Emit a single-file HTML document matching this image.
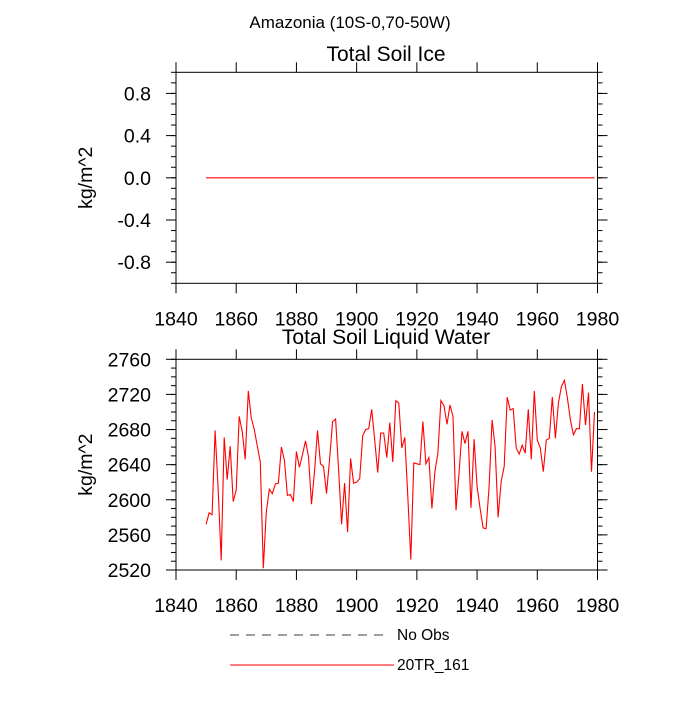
<!DOCTYPE html>
<html><head><meta charset="utf-8"><style>
body{margin:0;background:#fff;}
svg text{font-family:"Liberation Sans",sans-serif;fill:#000;}
</style></head><body>
<svg id="c" width="700" height="700" xmlns="http://www.w3.org/2000/svg"></svg>
<script>
const years = [];
for (let y = 1850; y <= 1979; y++) years.push(y);
const liquidWater = [2572,2585,2583,2679,2611,2531,2671,2623,2661,2598,2611,2695,2678,2646,2724,2693,2680,2661,2643,2522,2586,2612,2607,2618,2619,2660,2645,2605,2606,2598,2655,2637,2651,2667,2649,2595,2632,2679,2641,2638,2607,2645,2689,2692,2634,2572,2619,2563,2647,2619,2620,2624,2673,2680,2681,2703,2668,2631,2676,2676,2648,2688,2643,2713,2710,2659,2671,2604,2532,2642,2641,2640,2689,2641,2648,2590,2632,2653,2713,2707,2686,2708,2695,2588,2630,2678,2664,2678,2591,2669,2615,2590,2568,2567,2615,2691,2660,2580,2621,2638,2717,2702,2704,2659,2652,2662,2653,2703,2646,2724,2668,2659,2632,2668,2670,2717,2670,2710,2729,2736,2716,2691,2674,2681,2681,2732,2685,2722,2632,2700];
const soilIce = years.map(() => 0);
const xTicks = [1840,1860,1880,1900,1920,1940,1960,1980];
const iceTicks = [-0.8,-0.4,0.0,0.4,0.8];
const waterTicks = [2520,2560,2600,2640,2680,2720,2760];

const svg = document.getElementById('c');
const NS = 'http://www.w3.org/2000/svg';
function mk(tag, attrs, parent) {
  const e = document.createElementNS(NS, tag);
  for (const k in attrs) e.setAttribute(k, attrs[k]);
  (parent || svg).appendChild(e);
  return e;
}
const X0 = 176, X1 = 597.5;
const xs = v => X0 + (v - 1840) / 140 * (X1 - X0);

function panel(name, top, bottom, ymin, ymax, majors, minorStep, fmt, data, title, titleY) {
  const g = mk('g', {});
  
  
  const ys = v => bottom - (v - ymin) / (ymax - ymin) * (bottom - top);
  const f = mk('rect', {x: X0, y: top, width: X1 - X0, height: bottom - top, fill: 'none', stroke: '#000', 'stroke-width': 1}, g);
  
  
  for (let v = ymin; v <= ymax + 1e-9; v += minorStep) {
    const yy = ys(v);
    mk('line', {x1: X0 - 5, x2: X0, y1: yy, y2: yy, stroke: '#000'}, g);
    mk('line', {x1: X1, x2: X1 + 5, y1: yy, y2: yy, stroke: '#000'}, g);
  }
  majors.forEach(v => {
    const yy = ys(v);
    mk('line', {x1: X0 - 10, x2: X0, y1: yy, y2: yy, stroke: '#000'}, g);
    mk('line', {x1: X1, x2: X1 + 10, y1: yy, y2: yy, stroke: '#000'}, g);
    const t = mk('text', {x: X0 - 25, y: yy + 7, 'text-anchor': 'end', 'font-size': 19.5}, g);
    t.textContent = fmt(v);
    
    
  });
  xTicks.forEach(v => {
    const xx = xs(v);
    mk('line', {x1: xx, x2: xx, y1: top - 10, y2: top, stroke: '#000'}, g);
    mk('line', {x1: xx, x2: xx, y1: bottom, y2: bottom + 10, stroke: '#000'}, g);
    const t = mk('text', {x: xx, y: bottom + 42, 'text-anchor': 'middle', 'font-size': 19.5}, g);
    t.textContent = v;
    
    
  });
  const yl = mk('text', {x: 0, y: 0, 'text-anchor': 'middle', 'font-size': 19.5, transform: `translate(92,${(top + bottom) / 2}) rotate(-90)`}, g);
  yl.textContent = 'kg/m^2';
  
  
  const tt = mk('text', {x: 386, y: titleY, 'text-anchor': 'middle', 'font-size': 21}, g);
  tt.textContent = title;
  
  
  const pts = data.map((v, i) => xs(years[i]).toFixed(1) + ',' + ys(v).toFixed(1)).join(' ');
  const pl = mk('polyline', {points: pts, fill: 'none', stroke: '#ff0000', 'stroke-width': 1.1}, g);
  
  
}

const mt = mk('text', {x: 350, y: 28, 'text-anchor': 'middle', 'font-size': 17});
mt.textContent = 'Amazonia (10S-0,70-50W)';



panel('soil-ice-panel', 72.3, 283.3, -1, 1, iceTicks, 0.1, v => v.toFixed(1), soilIce, 'Total Soil Ice', 61);
panel('soil-water-panel', 359.3, 570, 2520, 2760, waterTicks, 10, v => String(v), liquidWater, 'Total Soil Liquid Water', 344);

const lg = mk('g', {});


const l1 = mk('line', {x1: 230, x2: 386, y1: 635, y2: 635, stroke: '#000', 'stroke-dasharray': '9,7', 'stroke-width': 0.8}, lg);


const t1 = mk('text', {x: 397, y: 640, 'font-size': 15.5}, lg);
t1.textContent = 'No Obs';


const l2 = mk('line', {x1: 230, x2: 394, y1: 665, y2: 665, stroke: '#ff0000', 'stroke-width': 1}, lg);


const t2 = mk('text', {x: 397, y: 670, 'font-size': 15.5}, lg);
t2.textContent = '20TR_161';


</script>
</body></html>
